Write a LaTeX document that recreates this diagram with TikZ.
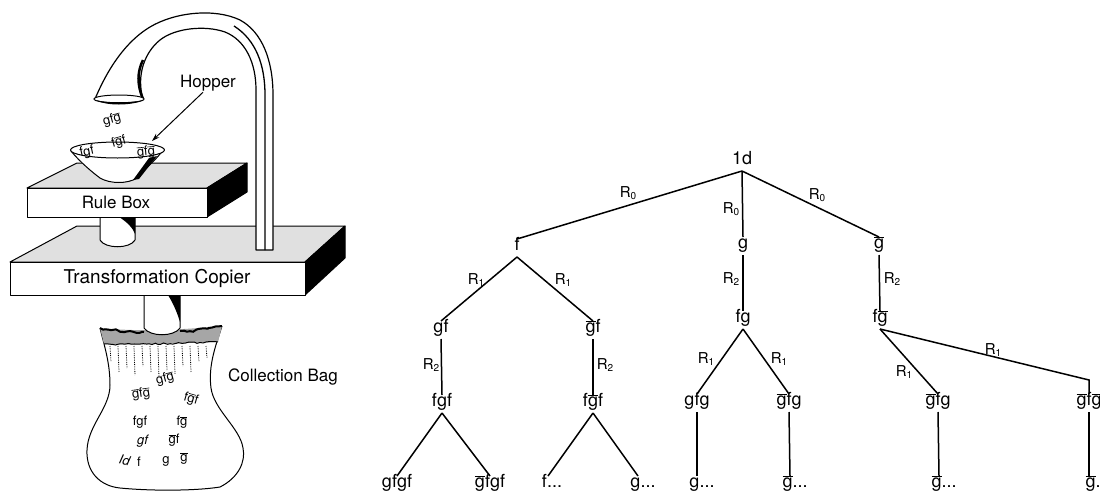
\documentclass[tikz,border=0pt]{standalone}
\usepackage{fontspec}
\setmainfont{TeX Gyre Heros}
\usetikzlibrary{arrows.meta,decorations.pathmorphing}
\newcommand\gbr{\leavevmode\vbox{\hrule height 0.6pt\kern0.9pt\hbox{g}}}
\newcommand\Rsub[1]{R\raisebox{-0.3ex}{\fontsize{10}{10}\selectfont #1}}
\pgfdeclareradialshading{bagshade}{\pgfpoint{0bp}{0bp}}{color(0bp)=(white); color(26bp)=(white); color(38bp)=(black!30); color(45bp)=(black!55); color(50bp)=(black!75)}
\begin{document}
\begin{tikzpicture}[x=1pt,y=-1pt,
  lbl/.style={font=\fontsize{18}{20}\selectfont, inner sep=0pt, outer sep=3.5pt, text height=8pt, text depth=3pt},
  rl/.style={font=\fontsize{15}{17}\selectfont, inner sep=0pt},
  edge/.style={line width=1.5pt},
  face/.style={draw, line width=1pt, line join=round},
  bagtxt/.style={font=\fontsize{13}{15}\selectfont, inner sep=0pt},
  captxt/.style={font=\fontsize{17}{19}\selectfont, inner sep=1pt},
]
\useasboundingbox (0,0) rectangle (1100,493);

% ---------------- left illustration ----------------
% collection bag
\begin{scope}
\clip (100,328) .. controls (104,345) and (110,362) .. (110,385) .. controls (110,408) and (88,425) .. (87,450) .. controls (86,472) and (100,486) .. (120,488) .. controls (150,491) and (195,491) .. (220,487) .. controls (238,478) and (246,462) .. (243,448) .. controls (240,428) and (214,410) .. (211,388) .. controls (208,365) and (216,345) .. (222,326) -- cycle;
\shade[shading=bagshade] (165,412) ellipse [x radius=80, y radius=88];
\end{scope}
\draw[line width=1pt] (100,328) .. controls (104,345) and (110,362) .. (110,385) .. controls (110,408) and (88,425) .. (87,450) .. controls (86,472) and (100,486) .. (120,488) .. controls (150,491) and (195,491) .. (220,487) .. controls (238,478) and (246,462) .. (243,448) .. controls (240,428) and (214,410) .. (211,388) .. controls (208,365) and (216,345) .. (222,326);
\fill[black!35] (100,328) .. controls (140,332) and (180,330) .. (222,326) -- (218,342) .. controls (180,343) and (140,345) .. (104,344) -- cycle;
% lower cylinder
\filldraw[face, fill=white] (144,292) -- (144,328) .. controls (150,337) and (174,337) .. (180,328) -- (180,292) -- cycle;
\fill (168,295) .. controls (173,303) and (177,312) .. (180,322) -- (180,295) -- cycle;
% bag rim
\draw[line width=2pt, decorate, decoration={random steps, amplitude=1.2pt, segment length=3pt}] (100,328) .. controls (118,331) and (132,332) .. (144,332);
\draw[line width=2pt, decorate, decoration={random steps, amplitude=1.2pt, segment length=3pt}] (180,331) .. controls (195,331) and (210,329) .. (222,326);
\draw[line width=1pt, decorate, decoration={random steps, amplitude=0.8pt, segment length=3pt}] (104,344) .. controls (140,345) and (180,343) .. (218,342);
\foreach \x/\l in {110/362,118/372,126/368,134/375,142/366,150/372,158/378,166/370,174/374,182/366,190/372,198/362,206/358} \draw[densely dotted, line width=0.8pt] (\x,346) -- (\x+1,\l);

% transformation copier
\filldraw[face, fill=black!12] (10,262) -- (77,226) -- (345,226) -- (305,262) -- cycle;
\filldraw[face, fill=black] (305,262) -- (345,226) -- (345,258) -- (305,295) -- cycle;
\filldraw[face, fill=white] (10,262) rectangle (305,295);
% upper cylinder
\filldraw[face, fill=white] (100,214) -- (100,240) .. controls (105,249) and (130,249) .. (135,240) -- (135,214) -- cycle;
\fill (119,217) .. controls (127,222) and (133,228) .. (135,234) -- (135,217) -- cycle;
% rule box
\filldraw[face, fill=black!12] (27,188) -- (77,163) -- (247,163) -- (207,188) -- cycle;
\filldraw[face, fill=black] (207,188) -- (247,163) -- (247,192) -- (207,217) -- cycle;
\filldraw[face, fill=white] (27,188) rectangle (207,217);
% hopper bowl
\filldraw[face, fill=white] (71,151) .. controls (80,162) and (92,172) .. (100,178) .. controls (110,184) and (128,184) .. (137,178) .. controls (146,168) and (156,160) .. (164,149) -- cycle;
\fill (149,158) -- (157,156) -- (139,179) -- (133,180) -- cycle;
\filldraw[face, fill=white] (117.5,150) ellipse [x radius=47, y radius=8];
% pipe
\filldraw[line width=1.2pt, fill=white, line join=round] (95,99) .. controls (103,80) and (120,45) .. (150,27) .. controls (175,12) and (215,8) .. (240,20) .. controls (262,32) and (273,60) .. (273,95) -- (273,250) -- (256,250) -- (256,90) .. controls (256,62) and (245,40) .. (225,32) .. controls (205,25) and (175,28) .. (160,40) .. controls (145,52) and (136,75) .. (143,99) -- cycle;
\draw[line width=1.3pt] (265,250) -- (265,95) .. controls (265,65) and (256,40) .. (234,26);
\draw[line width=2.5pt] (143,99) .. controls (137,85) and (137,72) .. (143,60);
\filldraw[line width=1pt, fill=white] (119,99) ellipse [x radius=25, y radius=4];
\fill (96,100) .. controls (105,106) and (132,106) .. (144,100) .. controls (132,103) and (105,103) .. (96,100);

% labels of the illustration
\node[captxt] (hop) at (208,83) {Hopper};
\coordinate (hoptip) at (152,141);
\draw[line width=1pt, -{Stealth[length=8pt,width=5pt]}] ([xshift=-5pt]hop.south) -- (hoptip);
\node[captxt] (rbox) at (116,202) {Rule Box};
\node[captxt, font=\fontsize{19}{21}\selectfont] (tcop) at (157,278) {Transformation Copier};
\node[captxt] (cbag) at (283,377) {Collection Bag};

% texts in hopper
\node[bagtxt, rotate=15] (h1) at (112,120) {gf\gbr};
\node[bagtxt, rotate=12] (h2) at (87,152) {fgf};
\node[bagtxt, rotate=16] (h3) at (119,142) {f\gbr f};
\node[bagtxt, rotate=5] (h4) at (146,152) {\gbr f\gbr};

% texts in bag
\node[bagtxt, rotate=15] (b1) at (165,379) {gf\gbr};
\node[bagtxt, rotate=8] (b2) at (141,394) {\gbr f\gbr};
\node[bagtxt, rotate=-16] (b3) at (191,399) {f\gbr f};
\node[bagtxt] (b4) at (140,422) {fgf};
\node[bagtxt] (b5) at (182,422) {f\gbr};
\node[bagtxt] (b6) at (143,441) {\textit{gf}};
\node[bagtxt] (b7) at (174,440) {\gbr f};
\node[bagtxt, rotate=-12] (b8) at (125,460) {\textit{Id}};
\node[bagtxt] (b9) at (139,462) {f};
\node[bagtxt] (b10) at (166,461) {g};
\node[bagtxt] (b11) at (184,459) {\gbr};

% ---------------- tree ----------------
\node[lbl] (root) at (742,162) {1d};
\node[lbl] (f) at (517,248) {f};
\node[lbl] (g) at (743,246) {g};
\node[lbl] (gb) at (879,246) {\gbr};
\node[lbl] (fg) at (743,320) {fg};
\node[lbl] (fgb) at (880,320) {f\gbr};
\node[lbl] (gf) at (441,330) {gf};
\node[lbl] (gbf) at (593,330) {\gbr f};
\node[lbl] (fgf) at (442,404) {fgf};
\node[lbl] (fgbf) at (593,404) {f\gbr f};
\node[lbl] (gfg) at (697,403) {gfg};
\node[lbl] (gbfg) at (789,403) {\gbr fg};
\node[lbl] (gbfgt) at (938,403) {\gbr fg};
\node[lbl] (gbfgb) at (1089,403) {\gbr f\gbr};
\node[lbl] (gfgf) at (397,485) {gfgf};
\node[lbl] (gbfgf) at (490,485) {\gbr fgf};
\node[lbl] (fdots) at (552,485) {f...};
\node[lbl] (gdotsA) at (643,485) {g...};
\node[lbl] (gdotsB) at (702,485) {g...};
\node[lbl] (gbdotsA) at (795,485) {\gbr...};
\node[lbl] (gbdotsB) at (944,485) {\gbr...};
\node[lbl] (gbdotsC) at (1093,485) {\gbr.};
\coordinate (bend) at (1089,380);

\draw[edge] (root.south) -- (f.north);
\draw[edge] (root.south) -- (g.north);
\draw[edge] (root.south) -- (gb.north);
\draw[edge] (g.south) -- (fg.north);
\draw[edge] (gb.south) -- (fgb.north);
\draw[edge] (f.south) -- (gf.north);
\draw[edge] (f.south) -- (gbf.north);
\draw[edge] (gf.south) -- (fgf.north);
\draw[edge] (gbf.south) -- (fgbf.north);
\draw[edge] (fgf.south) -- (gfgf.north);
\draw[edge] (fgf.south) -- (gbfgf.north);
\draw[edge] (fgbf.south) -- ([xshift=-4pt]fdots.north);
\draw[edge] (fgbf.south) -- ([xshift=-5pt]gdotsA.north);
\draw[edge] (fg.south) -- (gfg.north);
\draw[edge] (fg.south) -- (gbfg.north);
\draw[edge] (gfg.south) -- ([xshift=-5pt]gdotsB.north);
\draw[edge] (gbfg.south) -- ([xshift=-5pt]gbdotsA.north);
\draw[edge] (fgb.south) -- (gbfgt.north);
\draw[edge] (fgb.south) -- (bend) -- (gbfgb.north);
\draw[edge] (gbfgt.south) -- ([xshift=-5pt]gbdotsB.north);
\draw[edge] (gbfgb.south) -- ([xshift=-4pt]gbdotsC.north);

\node[rl] (r1) at (628,193) {\Rsub0};
\node[rl] (r2) at (731,209) {\Rsub0};
\node[rl] (r3) at (817,195) {\Rsub0};
\node[rl] (r4) at (731,279) {\Rsub2};
\node[rl] (r5) at (892,279) {\Rsub2};
\node[rl] (r6) at (476,280) {\Rsub1};
\node[rl] (r7) at (563,280) {\Rsub1};
\node[rl] (r8) at (431,365) {\Rsub2};
\node[rl] (r9) at (605,365) {\Rsub2};
\node[rl] (r10) at (706,359) {\Rsub1};
\node[rl] (r11) at (779,359) {\Rsub1};
\node[rl] (r12) at (904,372) {\Rsub1};
\node[rl] (r13) at (993,350) {\Rsub1};
\end{tikzpicture}
\end{document}
